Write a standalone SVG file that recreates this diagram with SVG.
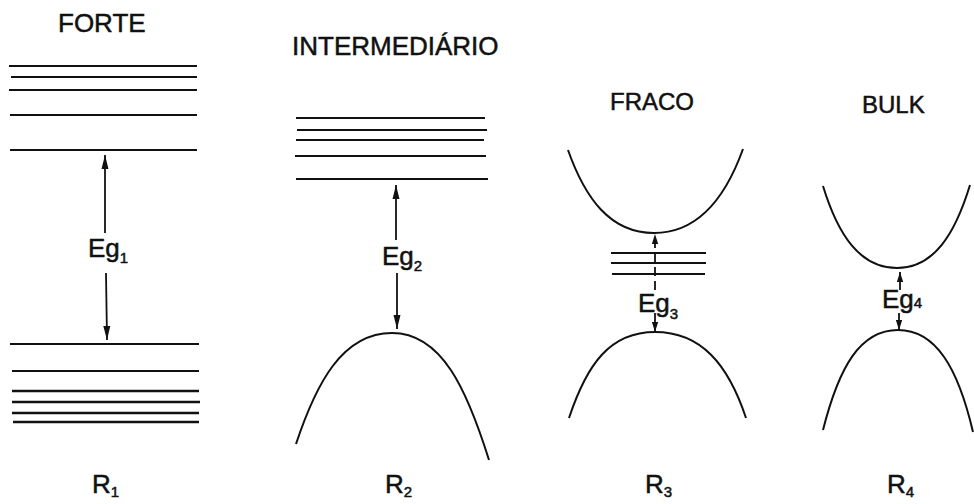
<svg xmlns="http://www.w3.org/2000/svg" width="974" height="504" viewBox="0 0 974 504">
<style>
.bg{fill:#ffffff}
.lvl{stroke:#111;stroke-width:2;fill:none}
.band{stroke:#111;stroke-width:2.3;fill:none}
.crv{stroke:#111;stroke-width:2;fill:none}
.arr{stroke:#111;stroke-width:1.8;fill:none}
.dash{stroke-dasharray:9 5}
.t{font-family:"Liberation Sans","DejaVu Sans",Arial,sans-serif;fill:#111;stroke:#111;stroke-width:0.5}
.big{font-size:26px}
.mid{font-size:24px}
.sub{font-size:15px}
</style>
<defs>
<marker id="ah" viewBox="0 0 14 8" refX="14" refY="4" markerWidth="14" markerHeight="8" markerUnits="userSpaceOnUse" orient="auto">
<path d="M0,0.5 L14,4 L0,7.5 z" fill="#111"/>
</marker>
<marker id="ahs" viewBox="0 0 10 7" refX="10" refY="3.5" markerWidth="10" markerHeight="7" markerUnits="userSpaceOnUse" orient="auto">
<path d="M0,0.3 L10,3.5 L0,6.7 z" fill="#111"/>
</marker>
</defs>
<rect class="bg" x="0" y="0" width="974" height="504"/>

<g id="forte">
<text class="t big" x="58" y="32">FORTE</text>
<g id="forte-conduction">
<line class="lvl" x1="9" y1="66" x2="197" y2="66"/>
<line class="lvl" x1="11" y1="77" x2="197" y2="77"/>
<line class="lvl" x1="9" y1="90" x2="197" y2="90"/>
<line class="lvl" x1="10" y1="115" x2="197" y2="115"/>
<line class="lvl" x1="10" y1="150" x2="197" y2="150"/>
</g>
<g id="forte-valence">
<line class="lvl" x1="10" y1="344" x2="199" y2="344"/>
<line class="lvl" x1="12" y1="371" x2="199" y2="371"/>
<line class="band" x1="12" y1="391" x2="199" y2="391"/>
<line class="band" x1="12" y1="402" x2="200" y2="402"/>
<line class="band" x1="12" y1="413" x2="199" y2="413"/>
<line class="band" x1="13" y1="422" x2="199" y2="422"/>
</g>
<text class="t big" x="88" y="257">Eg<tspan class="sub" dy="6">1</tspan></text>
<text class="t big" x="92" y="493">R<tspan class="sub" dy="4">1</tspan></text>
</g>

<g id="intermediario">
<text class="t big" x="292" y="55">INTERMEDIÁRIO</text>
<g id="inter-conduction">
<line class="lvl" x1="296" y1="118" x2="485" y2="118"/>
<line class="lvl" x1="297" y1="130" x2="487" y2="130"/>
<line class="lvl" x1="296" y1="140" x2="484" y2="140"/>
<line class="lvl" x1="295" y1="156" x2="486" y2="156"/>
<line class="lvl" x1="296" y1="179" x2="488" y2="179"/>
</g>
<path id="inter-valence" class="crv" d="M296,444 C316,384 342,333 392,333 C442,333 467,390 489,460"/>
<text class="t big" x="382" y="265">Eg<tspan class="sub" dy="6">2</tspan></text>
<text class="t big" x="385" y="493">R<tspan class="sub" dy="4">2</tspan></text>
</g>

<g id="fraco">
<text class="t mid" x="610" y="110">FRACO</text>
<path id="fraco-conduction" class="crv" d="M568,150 C585,198 610,233 654,233 C698,233 725,199 743,149"/>
<g id="fraco-levels">
<line class="lvl" x1="611" y1="253" x2="706" y2="253"/>
<line class="lvl" x1="611" y1="263" x2="706" y2="263"/>
<line class="lvl" x1="612" y1="274" x2="705" y2="274"/>
</g>
<path id="fraco-valence" class="crv" d="M569,418 C587,364 610,332 655,332 C701,332 728,364 746,418"/>
<text class="t big" x="638" y="312">Eg<tspan class="sub" dy="7">3</tspan></text>
<text class="t big" x="645" y="493">R<tspan class="sub" dy="4">3</tspan></text>
</g>

<g id="bulk">
<text class="t mid" x="862" y="113">BULK</text>
<path id="bulk-conduction" class="crv" d="M823,186 C838,235 860,268 897,268 C934,268 955,234 970,185"/>
<path id="bulk-valence" class="crv" d="M823,430 C839,367 860,330 898,330 C936,330 958,368 973,432"/>
<text class="t big" x="882" y="308">Eg<tspan class="sub" dy="0">4</tspan></text>
<text class="t big" x="887" y="493">R<tspan class="sub" dy="4">4</tspan></text>
</g>

<g id="connectors">
<line class="arr" x1="105" y1="233" x2="105" y2="155" marker-end="url(#ah)"/>
<line class="arr" x1="106" y1="273" x2="107" y2="340" marker-end="url(#ah)"/>
<line class="arr" x1="396" y1="240" x2="396" y2="185" marker-end="url(#ah)"/>
<line class="arr" x1="397" y1="273" x2="397" y2="329" marker-end="url(#ah)"/>
<line class="arr dash" x1="655" y1="290" x2="655" y2="234" marker-end="url(#ahs)"/>
<line class="arr" x1="655" y1="313" x2="655" y2="332" marker-end="url(#ahs)"/>
<line class="arr" x1="900" y1="290" x2="900" y2="272" marker-end="url(#ahs)"/>
<line class="arr" x1="899" y1="313" x2="899" y2="330" marker-end="url(#ahs)"/>
</g>
</svg>
